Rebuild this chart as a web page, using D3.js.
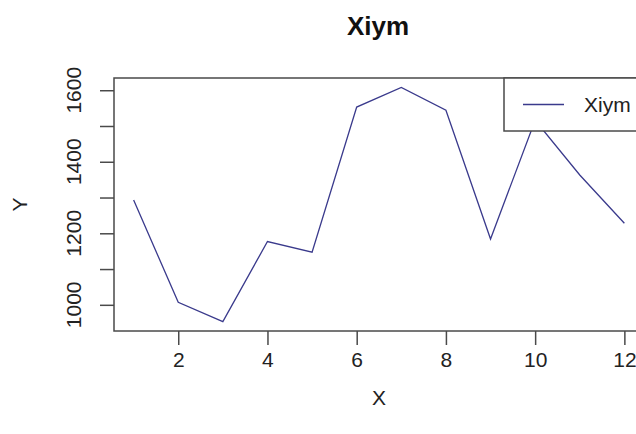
<!DOCTYPE html>
<html>
<head>
<meta charset="utf-8">
<script src="https://cdn.jsdelivr.net/npm/d3@7"></script>
<style>
  body { margin: 0; background: #fff; }
  svg { display: block; font-family: Arial, "Liberation Sans", sans-serif; }
</style>
</head>
<body>
<svg id="chart" width="636" height="434"></svg>
<script>
// data
const xs = [1, 2, 3, 4, 5, 6, 7, 8, 9, 10, 11, 12];
const ys = [1293, 1007, 953, 1177, 1147, 1553, 1608, 1544, 1184, 1516, 1363, 1228];
const xTicks = [2, 4, 6, 8, 10, 12];
const yTicks = [1000, 1100, 1200, 1300, 1400, 1500, 1600];
const yLabels = [1000, 1200, 1400, 1600];
const seriesName = "Xiym";

const svg = d3.select("#chart");

// plot region (right edge runs off the picture like the original)
const plotL = 114, plotR = 644, plotT = 78, plotB = 331;
const axisCol = "#4a4a4a";
const lineCol = "#3a3a8c";

// R style 4% padding on the ranges
const pad = (lo, hi) => [lo - (hi - lo) * 0.04, hi + (hi - lo) * 0.04];
const x = d3.scaleLinear().domain(pad(d3.min(xs), d3.max(xs))).range([plotL, plotR]);
const y = d3.scaleLinear().domain(pad(d3.min(ys), d3.max(ys))).range([plotB, plotT]);

// line
const line = d3.line().x((d, i) => x(xs[i])).y(d => y(d));
svg.append("path")
  .datum(ys)
  .attr("d", line)
  .attr("fill", "none")
  .attr("stroke", lineCol)
  .attr("stroke-width", 1.3);

// axes
const xAxis = d3.axisBottom(x).tickValues(xTicks).tickSize(14).tickPadding(7).tickFormat(d3.format("d"));
const gx = svg.append("g").attr("transform", `translate(0,${plotB})`).call(xAxis);
gx.select(".domain").remove();
gx.selectAll(".tick line").attr("stroke", axisCol).attr("stroke-width", 1.5);
gx.selectAll(".tick text").attr("fill", "#222").attr("font-size", 21);

const yAxis = d3.axisLeft(y).tickValues(yTicks).tickSize(14).tickFormat("");
const gy = svg.append("g").attr("transform", `translate(${plotL},0)`).call(yAxis);
gy.select(".domain").remove();
gy.selectAll(".tick line").attr("stroke", axisCol).attr("stroke-width", 1.5);

svg.append("g").selectAll("text")
  .data(yLabels)
  .join("text")
  .attr("transform", d => `translate(${plotL - 33},${y(d)}) rotate(-90)`)
  .attr("text-anchor", "middle")
  .attr("fill", "#222")
  .attr("font-size", 21)
  .text(d => d);

// box
svg.append("rect")
  .attr("x", plotL).attr("y", plotT)
  .attr("width", plotR - plotL).attr("height", plotB - plotT)
  .attr("fill", "none")
  .attr("stroke", axisCol)
  .attr("stroke-width", 1.5);

// legend
const lg = svg.append("g");
lg.append("rect")
  .attr("x", 504).attr("y", plotT)
  .attr("width", 160).attr("height", 53)
  .attr("fill", "#fff")
  .attr("stroke", axisCol)
  .attr("stroke-width", 1.5);
lg.append("line")
  .attr("x1", 523).attr("x2", 564)
  .attr("y1", 104.5).attr("y2", 104.5)
  .attr("stroke", lineCol)
  .attr("stroke-width", 1.3);
lg.append("text")
  .attr("x", 584).attr("y", 112)
  .attr("fill", "#222")
  .attr("font-size", 21)
  .text(seriesName);

// titles
svg.append("text")
  .attr("x", (plotL + plotR) / 2 - 1).attr("y", 35)
  .attr("text-anchor", "middle")
  .attr("font-weight", "bold")
  .attr("font-size", 26)
  .attr("fill", "#111")
  .text(seriesName);

svg.append("text")
  .attr("x", (plotL + plotR) / 2).attr("y", 405)
  .attr("text-anchor", "middle")
  .attr("font-size", 21)
  .attr("fill", "#222")
  .text("X");

svg.append("text")
  .attr("transform", `translate(27,${(plotT + plotB) / 2}) rotate(-90)`)
  .attr("text-anchor", "middle")
  .attr("font-size", 21)
  .attr("fill", "#222")
  .text("Y");
</script>
</body>
</html>
